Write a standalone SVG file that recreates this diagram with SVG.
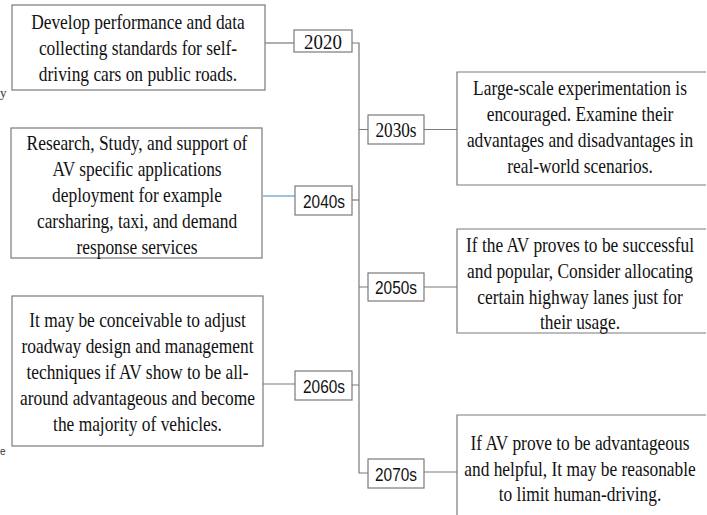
<svg xmlns="http://www.w3.org/2000/svg" width="707" height="515" viewBox="0 0 707 515">
<style>
.box{fill:#fff;stroke:#7a7a7a;stroke-width:1.2}
.t{font-family:"Liberation Serif","Times New Roman",serif;font-size:22px;fill:#111;text-anchor:middle}
.ys{font-family:"Liberation Serif","Times New Roman",serif;font-size:21px;fill:#111;text-anchor:middle}
.ya{font-family:"Liberation Sans",Arial,sans-serif;font-size:19px;fill:#111;text-anchor:middle}
.c{fill:none;stroke:#7a7a7a;stroke-width:1.2}
.cb{fill:none;stroke:#5b9bd5;stroke-width:1.2}
</style>
<rect width="707" height="515" fill="#fff"/>
<g id="connectors">
<path class="c" d="M265,43H294"/>
<path class="c" d="M352,43H359V473H368"/>
<path class="c" d="M359,129.5H368M424,129.5H457"/>
<path class="cb" d="M263,196H295"/>
<path class="c" d="M352,200H359"/>
<path class="c" d="M359,287H368M424,287H457"/>
<path class="c" d="M263,384H295M352,385H359"/>
<path class="c" d="M424,472H457"/>
</g>
<g id="n-left1">
<rect class="box" x="12" y="5" width="253" height="85"/>
<g transform="translate(138 0) scale(0.79 1)">
<text class="t" x="0" y="29">Develop performance and data</text>
<text class="t" x="0" y="55">collecting standards for self-</text>
<text class="t" x="0" y="81">driving cars on public roads.</text>
</g>
</g>
<g id="n-2020">
<rect class="box" x="294" y="30" width="58" height="22"/>
<text class="ys" transform="translate(323 48.5) scale(0.9 1)">2020</text>
</g>
<g id="n-2030s">
<rect class="box" x="368" y="115" width="56" height="29"/>
<text class="ys" transform="translate(396 137) scale(0.82 1)">2030s</text>
</g>
<g id="n-right1">
<path class="box" d="M706,72H457V185H706"/>
<g transform="translate(580 0) scale(0.79 1)">
<text class="t" x="0" y="95">Large-scale experimentation is</text>
<text class="t" x="0" y="121">encouraged. Examine their</text>
<text class="t" x="0" y="147">advantages and disadvantages in</text>
<text class="t" x="0" y="173">real-world scenarios.</text>
</g>
</g>
<g id="n-left2">
<rect class="box" x="11" y="128" width="251" height="130"/>
<g transform="translate(137 0) scale(0.79 1)">
<text class="t" x="0" y="150">Research, Study, and support of</text>
<text class="t" x="0" y="176">AV specific applications</text>
<text class="t" x="0" y="202">deployment for example</text>
<text class="t" x="0" y="228">carsharing, taxi, and demand</text>
<text class="t" x="0" y="254">response services</text>
</g>
</g>
<g id="n-2040s">
<rect class="box" x="295" y="186" width="57" height="29"/>
<text class="ya" transform="translate(324 207.5) scale(0.81 1)">2040s</text>
</g>
<g id="n-2050s">
<rect class="box" x="368" y="273" width="56" height="28"/>
<text class="ya" transform="translate(396 294) scale(0.81 1)">2050s</text>
</g>
<g id="n-right2">
<path class="box" d="M706,229H457V333H706"/>
<g transform="translate(580 0) scale(0.79 1)">
<text class="t" x="0" y="252">If the AV proves to be successful</text>
<text class="t" x="0" y="278">and popular, Consider allocating</text>
<text class="t" x="0" y="304">certain highway lanes just for</text>
<text class="t" x="0" y="329">their usage.</text>
</g>
</g>
<g id="n-left3">
<rect class="box" x="12" y="296" width="251" height="150"/>
<g transform="translate(137.5 0) scale(0.79 1)">
<text class="t" x="0" y="327">It may be conceivable to adjust</text>
<text class="t" x="0" y="353">roadway design and management</text>
<text class="t" x="0" y="379">techniques if AV show to be all-</text>
<text class="t" x="0" y="405">around advantageous and become</text>
<text class="t" x="0" y="431">the majority of vehicles.</text>
</g>
</g>
<g id="n-2060s">
<rect class="box" x="295" y="371" width="57" height="29"/>
<text class="ya" transform="translate(324 392.5) scale(0.81 1)">2060s</text>
</g>
<g id="n-2070s">
<rect class="box" x="368" y="459" width="56" height="29"/>
<text class="ya" transform="translate(396 480.5) scale(0.81 1)">2070s</text>
</g>
<g id="n-right3">
<path class="box" d="M706,415H457V515"/>
<g transform="translate(580 0) scale(0.79 1)">
<text class="t" x="0" y="450">If AV prove to be advantageous</text>
<text class="t" x="0" y="476">and helpful, It may be reasonable</text>
<text class="t" x="0" y="501">to limit human-driving.</text>
</g>
</g>
<text x="0" y="97" font-family="Liberation Serif,serif" font-size="13" fill="#333">y</text>
<text x="0" y="455" font-family="Liberation Sans,sans-serif" font-size="10" fill="#333">e</text>
</svg>
